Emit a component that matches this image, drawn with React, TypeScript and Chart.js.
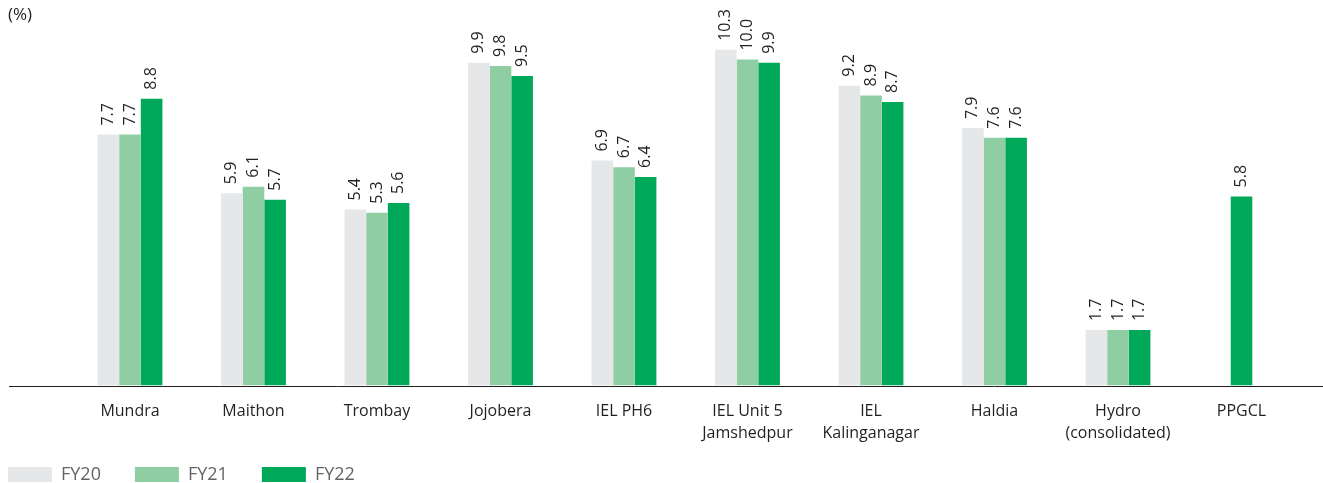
import React, { useEffect, useRef } from "react";
import { Chart, registerables } from "chart.js";

Chart.register(...registerables);

const categories: (string | string[])[] = [
  "Mundra",
  "Maithon",
  "Trombay",
  "Jojobera",
  "IEL PH6",
  ["IEL Unit 5", "Jamshedpur"],
  ["IEL", "Kalinganagar"],
  "Haldia",
  ["Hydro", "(consolidated)"],
  "PPGCL",
];
const fy20 = [7.7, 5.9, 5.4, 9.9, 6.9, 10.3, 9.2, 7.9, 1.7, null];
const fy21 = [7.7, 6.1, 5.3, 9.8, 6.7, 10.0, 8.9, 7.6, 1.7, null];
const fy22 = [8.8, 5.7, 5.6, 9.5, 6.4, 9.9, 8.7, 7.6, 1.7, 5.8];
const seriesNames = ["FY20", "FY21", "FY22"];
const seriesColors = ["#e6e7e8", "#8fcea2", "#00a859"];
const unitLabel = "(%)";

const FONT = "'Open Sans', 'Noto Sans', sans-serif";
const TEXT = "#231f20";
const LEGEND_PAD = 34;

const annotate = {
  id: "annotate",
  afterLayout(chart: any) {
    const lg = chart.legend;
    if (lg) {
      lg.left -= LEGEND_PAD;
      lg.right -= LEGEND_PAD;
      lg.top -= 22;
      lg.bottom -= 22;
    }
  },
  afterDatasetsDraw(chart: any) {
    const ctx = chart.ctx;
    const area = chart.chartArea;
    ctx.save();
    const y = Math.round(area.bottom) + 0.5;
    ctx.strokeStyle = TEXT;
    ctx.lineWidth = 1;
    ctx.beginPath();
    ctx.moveTo(9, y);
    ctx.lineTo(chart.width, y);
    ctx.stroke();

    ctx.font = `16px ${FONT}`;
    ctx.fillStyle = TEXT;
    ctx.textAlign = "left";
    ctx.textBaseline = "middle";
    chart.data.datasets.forEach((ds: any, i: number) => {
      const meta = chart.getDatasetMeta(i);
      meta.data.forEach((bar: any, j: number) => {
        const v = ds.data[j];
        if (v == null) return;
        ctx.save();
        ctx.translate(bar.x, bar.y - 9);
        ctx.rotate(-Math.PI / 2);
        ctx.fillText(Number(v).toFixed(1), 0, 0);
        ctx.restore();
      });
    });
    ctx.restore();
  },
};

export default function App() {
  const ref = useRef<HTMLCanvasElement | null>(null);

  useEffect(() => {
    if (!ref.current) return;
    const seriesData = [fy20, fy21, fy22];
    const chart = new Chart(ref.current, {
      type: "bar",
      data: {
        labels: categories,
        datasets: seriesNames.map((name, i) => ({
          label: name,
          data: seriesData[i],
          backgroundColor: seriesColors[i],
          borderWidth: 0,
          categoryPercentage: 0.525,
          barPercentage: 1,
          maxBarThickness: 21.6,
          skipNull: true,
        })) as any,
      },
      options: {
        responsive: false,
        animation: false,
        layout: { padding: { left: 8, right: 19.75, top: 4.8, bottom: -32.5 } },
        plugins: {
          title: {
            display: true,
            text: unitLabel,
            align: "start",
            color: TEXT,
            font: { family: FONT, size: 17, weight: "normal" },
            padding: { top: 0, bottom: 1.8 },
          },
          legend: {
            position: "bottom",
            align: "start",
            labels: {
              boxWidth: 44,
              boxHeight: 15,
              padding: LEGEND_PAD,
              color: "#636466",
              font: { family: FONT, size: 18 },
            },
          },
          tooltip: { enabled: false },
        },
        scales: {
          x: {
            grid: { display: false, drawTicks: false, tickLength: 0 },
            border: { display: false },
            ticks: {
              color: TEXT,
              font: { family: FONT, size: 16, lineHeight: 1.375 },
              padding: 14.5,
              autoSkip: false,
              maxRotation: 0,
            },
            afterFit: (s: any) => {
              s.height = 68;
            },
          },
          y: {
            min: 0,
            max: 11,
            grid: { display: false },
            border: { display: false },
            ticks: { display: false },
            afterFit: (s: any) => {
              s.width = 60.25;
            },
          },
        },
      },
      plugins: [annotate],
    });
    return () => chart.destroy();
  }, []);

  return (
    <div style={{ position: "absolute", left: 0, top: 0, width: 1323, height: 483 }}>
      <canvas ref={ref} width={1323} height={483} style={{ display: "block" }} />
    </div>
  );
}
